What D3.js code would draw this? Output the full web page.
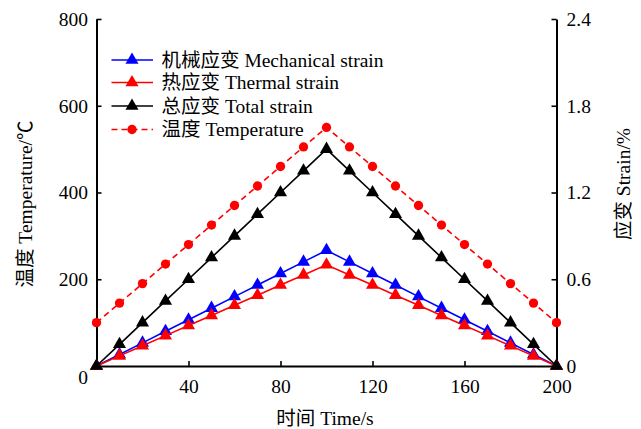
<!DOCTYPE html>
<html>
<head>
<meta charset="utf-8">
<script src="https://cdn.jsdelivr.net/npm/d3@7"></script>
<style>
  html, body { margin: 0; padding: 0; background: #fff; }
</style>
</head>
<body>
<svg id="chart" width="641" height="429"></svg>
<script>
// Time (s)
const time = [0, 10, 20, 30, 40, 50, 60, 70, 80, 90, 100, 110, 120, 130, 140, 150, 160, 170, 180, 190, 200];
// Temperature (°C)
const temperature = [100, 145, 190, 235, 280, 325, 370, 415, 460, 505, 550, 505, 460, 415, 370, 325, 280, 235, 190, 145, 100];
// Strains (%)
const mechanicalStrain = [0, 0.08, 0.16, 0.24, 0.32, 0.40, 0.48, 0.56, 0.64, 0.72, 0.80, 0.72, 0.64, 0.56, 0.48, 0.40, 0.32, 0.24, 0.16, 0.08, 0];
const thermalStrain = [0, 0.07, 0.14, 0.21, 0.28, 0.35, 0.42, 0.49, 0.56, 0.63, 0.70, 0.63, 0.56, 0.49, 0.42, 0.35, 0.28, 0.21, 0.14, 0.07, 0];
const totalStrain = [0, 0.15, 0.30, 0.45, 0.60, 0.75, 0.90, 1.05, 1.20, 1.35, 1.50, 1.35, 1.20, 1.05, 0.90, 0.75, 0.60, 0.45, 0.30, 0.15, 0];

// Axis ticks
const xTicks = [40, 80, 120, 160, 200];
const tempTicks = [0, 200, 400, 600, 800];
const strainTicks = [0, 0.6, 1.2, 1.8, 2.4];
const strainTickLabels = ["0", "0.6", "1.2", "1.8", "2.4"];

// Legend entries
const legendLabels = ["机械应变 Mechanical strain", "热应变 Thermal strain", "总应变 Total strain", "温度 Temperature"];
const legendColors = ["#0000ff", "#ff0000", "#000000", "#ff0000"];

const FONT = "'Liberation Serif', 'Times New Roman', 'Noto Sans CJK SC', serif";
const svg = d3.select("#chart").attr("font-family", FONT);
const plotLeft = 96.5, plotRight = 556.5, plotTop = 19, plotBottom = 366;
const fontSize = 19.5;

const x = d3.scaleLinear().domain([0, 200]).range([plotLeft, plotRight]);
const yT = d3.scaleLinear().domain([0, 800]).range([plotBottom, plotTop]);
const yS = d3.scaleLinear().domain([0, 2.4]).range([plotBottom, plotTop]);

// Axes with inward ticks
const gx = svg.append("g").attr("transform", `translate(0,${plotBottom})`)
  .call(d3.axisBottom(x).tickValues(xTicks).tickSize(-5).tickSizeOuter(0).tickPadding(13).tickFormat(d3.format("d")));
const gl = svg.append("g").attr("transform", `translate(${plotLeft},0)`)
  .call(d3.axisLeft(yT).tickValues(tempTicks).tickSize(-5).tickSizeOuter(0).tickPadding(8.5).tickFormat(d3.format("d")));
const gr = svg.append("g").attr("transform", `translate(${plotRight},0)`)
  .call(d3.axisRight(yS).tickValues(strainTicks).tickSize(-5).tickSizeOuter(0).tickPadding(10)
    .tickFormat((d, i) => strainTickLabels[i]));

[gx, gl, gr].forEach(g => {
  g.attr("font-family", FONT).attr("font-size", fontSize);
  g.selectAll(".domain").attr("stroke", "#000").attr("stroke-width", 2);
  g.selectAll(".tick line").attr("stroke", "#000").attr("stroke-width", 1.6);
  g.selectAll("text").attr("font-family", FONT).attr("font-size", fontSize).attr("fill", "#000");
});
// Origin label sits just below the corner
gl.selectAll(".tick").filter(d => d === 0).select("text").attr("dy", "0.9em");

// Axis titles
svg.append("text").attr("transform", `translate(32,204) rotate(-90)`)
  .attr("text-anchor", "middle").attr("font-size", fontSize).text("温度 Temperature/℃");
svg.append("text").attr("transform", `translate(630,184) rotate(-90)`)
  .attr("text-anchor", "middle").attr("font-size", fontSize).text("应变 Strain/%");
svg.append("text").attr("x", 325).attr("y", 425)
  .attr("text-anchor", "middle").attr("font-size", fontSize).text("时间 Time/s");

const tri = d3.symbol().type(d3.symbolTriangle).size(74);
const dot = d3.symbol().type(d3.symbolCircle).size(68);

function drawSeries(values, scale, color, symbol, dash) {
  const pts = time.map((t, i) => [x(t), scale(values[i])]);
  svg.append("path").attr("d", d3.line()(pts)).attr("fill", "none")
    .attr("stroke", color).attr("stroke-width", 1.6).attr("stroke-dasharray", dash || null);
  svg.append("g").selectAll("path").data(pts).join("path")
    .attr("transform", d => `translate(${d[0]},${d[1]})`)
    .attr("d", symbol()).attr("fill", color);
}

drawSeries(mechanicalStrain, yS, legendColors[0], tri);
drawSeries(thermalStrain, yS, legendColors[1], tri);
drawSeries(totalStrain, yS, legendColors[2], tri);
drawSeries(temperature, yT, legendColors[3], dot, "6,4");

// Legend
const legendY = [60, 82.5, 106, 129.5];
const lg = svg.append("g");
legendLabels.forEach((label, i) => {
  const yy = legendY[i];
  lg.append("line").attr("x1", 111.5).attr("x2", 153).attr("y1", yy).attr("y2", yy)
    .attr("stroke", legendColors[i]).attr("stroke-width", 1.6)
    .attr("stroke-dasharray", i === 3 ? "6,4" : null);
  lg.append("path").attr("transform", `translate(132,${yy})`)
    .attr("d", i === 3 ? dot() : tri()).attr("fill", legendColors[i]);
  lg.append("text").attr("x", 161.5).attr("y", yy).attr("dy", "0.34em")
    .attr("font-size", fontSize).text(label);
});
</script>
</body>
</html>
